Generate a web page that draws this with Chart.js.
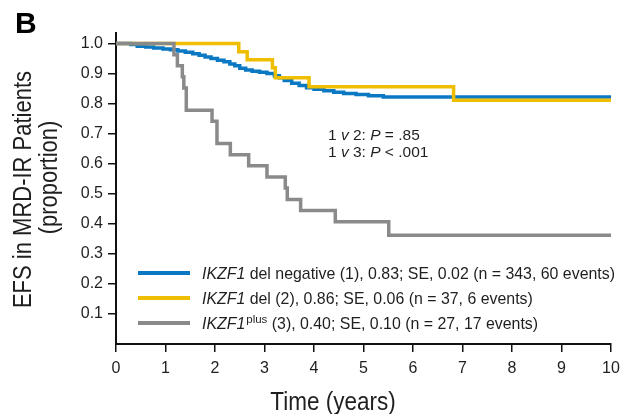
<!DOCTYPE html>
<html>
<head>
<meta charset="utf-8">
<script src="https://cdn.jsdelivr.net/npm/chart.js@4"></script>
<style>
  html, body { margin: 0; padding: 0; background: #fff; }
  #wrap { width: 628px; height: 414px; }
</style>
</head>
<body>
<div id="wrap"><canvas id="km"></canvas></div>
<script>
// tick positions
const xTicks = [0, 1, 2, 3, 4, 5, 6, 7, 8, 9, 10];
const yTicks = [0.1, 0.2, 0.3, 0.4, 0.5, 0.6, 0.7, 0.8, 0.9, 1.0];

// Kaplan-Meier steps (time in years, EFS proportion)
const negTime = [0, 0.30, 0.43, 0.60, 0.76, 0.95, 1.10, 1.25, 1.40, 1.55, 1.68, 1.80, 1.92, 2.05, 2.18, 2.30, 2.40, 2.50,
                 2.62, 2.75, 2.90, 3.05, 3.20, 3.30, 3.40, 3.55, 3.70, 3.85, 4.00, 4.20, 4.40, 4.60, 4.85, 5.10, 5.40, 10];
const negSurv = [1, 0.997, 0.991, 0.988, 0.985, 0.982, 0.979, 0.975, 0.971, 0.966, 0.961, 0.955, 0.950, 0.944, 0.939, 0.932, 0.926, 0.918,
                 0.912, 0.908, 0.904, 0.900, 0.893, 0.886, 0.877, 0.868, 0.860, 0.853, 0.848, 0.843, 0.838, 0.834, 0.830, 0.826, 0.822, 0.822];

const delTime = [0, 2.48, 2.65, 3.16, 3.22, 3.90, 6.82, 10];
const delSurv = [1, 0.973, 0.946, 0.919, 0.886, 0.856, 0.811, 0.811];

const plusTime = [0, 1.17, 1.24, 1.34, 1.37, 1.42, 1.94, 2.04, 2.31, 2.68, 3.05, 3.42, 3.46, 3.73, 4.43, 5.51, 10];
const plusSurv = [1, 0.963, 0.926, 0.889, 0.852, 0.778, 0.741, 0.667, 0.630, 0.593, 0.556, 0.519, 0.481, 0.444, 0.407, 0.362, 0.362];

const groupLabels = ['IKZF1 del negative (1)', 'IKZF1 del (2)', 'IKZF1plus (3)'];
const groupColors = ['#0a78c3', '#f0be00', '#8a8a8a'];

// legend text: [italic gene, superscript, rest]
const legendRows = [
  ['IKZF1', '', ' del negative (1), 0.83; SE, 0.02 (n = 343, 60 events)'],
  ['IKZF1', '', ' del (2), 0.86; SE, 0.06 (n = 37, 6 events)'],
  ['IKZF1', 'plus', ' (3), 0.40; SE, 0.10 (n = 27, 17 events)']
];

const FONT = '"Liberation Sans", Arial, Helvetica, sans-serif';
const INK = '#1f1f1f';

function pts(t, s) {
  return t.map((v, i) => ({ x: v, y: s[i] }));
}

const series = [[negTime, negSurv], [delTime, delSurv], [plusTime, plusSurv]];

// gray on top, then yellow, then blue
const drawOrder = [3, 2, 1];

const datasets = series.map((d, i) => ({
  label: groupLabels[i],
  data: pts(d[0], d[1]),
  borderColor: groupColors[i],
  backgroundColor: groupColors[i],
  borderWidth: 3.5,
  stepped: 'before',
  pointRadius: 0,
  fill: false,
  order: drawOrder[i]
}));

// condensed text helper
function squeezed(ctx, text, x, y, sx) {
  ctx.save();
  ctx.translate(x, y);
  ctx.scale(sx, 1);
  ctx.fillText(text, 0, 0);
  ctx.restore();
}

const labelsPlugin = {
  id: 'labels',
  afterDraw(chart) {
    const ctx = chart.ctx;
    ctx.save();
    ctx.fillStyle = '#000';

    // panel letter
    ctx.font = 'bold 30px ' + FONT;
    ctx.textAlign = 'left';
    ctx.textBaseline = 'alphabetic';
    ctx.fillText('B', 15, 33);

    ctx.fillStyle = INK;

    // x axis title
    ctx.font = '25px ' + FONT;
    ctx.textAlign = 'center';
    squeezed(ctx, 'Time (years)', 333, 410, 0.9);

    // y axis title, two lines
    ctx.save();
    ctx.rotate(-Math.PI / 2);
    ctx.textBaseline = 'middle';
    squeezed(ctx, 'EFS in MRD-IR Patients', -189.5, 24, 0.88);
    squeezed(ctx, '(proportion)', -177.5, 50, 0.88);
    ctx.restore();

    // log-rank comparisons
    ctx.textAlign = 'left';
    ctx.textBaseline = 'alphabetic';
    const pLines = [
      [['1 ', false], ['v', true], [' 2: ', false], ['P', true], [' = .85', false]],
      [['1 ', false], ['v', true], [' 3: ', false], ['P', true], [' < .001', false]]
    ];
    pLines.forEach((parts, r) => {
      let x = 328;
      const y = 139.5 + r * 17;
      parts.forEach(([txt, it]) => {
        ctx.font = (it ? 'italic ' : '') + '15.5px ' + FONT;
        ctx.fillText(txt, x, y);
        x += ctx.measureText(txt).width;
      });
    });

    // legend
    legendRows.forEach((row, i) => {
      const y = 273 + i * 25;
      ctx.strokeStyle = groupColors[i];
      ctx.lineWidth = 4;
      ctx.beginPath();
      ctx.moveTo(138, y);
      ctx.lineTo(190, y);
      ctx.stroke();

      let x = 202;
      const base = y + 5.5;
      ctx.font = 'italic 15.9px ' + FONT;
      ctx.fillText(row[0], x, base);
      x += ctx.measureText(row[0]).width;
      if (row[1]) {
        ctx.font = '11.5px ' + FONT;
        ctx.fillText(row[1], x + 1, base - 6);
        x += ctx.measureText(row[1]).width + 1;
      }
      ctx.font = '15.9px ' + FONT;
      ctx.fillText(row[2], x, base);
    });

    ctx.restore();
  }
};

const axisLine = { color: '#111', width: 2 };
const tickGrid = { drawOnChartArea: false, drawTicks: true, tickLength: 8, color: '#111', lineWidth: 1.5 };

new Chart(document.getElementById('km'), {
  type: 'line',
  data: { datasets: datasets },
  options: {
    responsive: true,
    maintainAspectRatio: false,
    animation: false,
    devicePixelRatio: 1,
    layout: { padding: { top: 33, right: 17, left: 0, bottom: 0 } },
    plugins: { legend: { display: false }, tooltip: { enabled: false } },
    scales: {
      x: {
        type: 'linear',
        min: 0,
        max: 10,
        afterBuildTicks: s => { s.ticks = xTicks.map(v => ({ value: v })); },
        afterFit: s => { s.height = 70; },
        border: axisLine,
        grid: tickGrid,
        ticks: {
          autoSkip: false,
          maxRotation: 0,
          padding: 7,
          color: INK,
          font: { family: FONT, size: 16 },
          callback: v => String(v)
        }
      },
      y: {
        type: 'linear',
        min: 0,
        max: 1.035,
        afterBuildTicks: s => { s.ticks = yTicks.map(v => ({ value: v })); },
        afterFit: s => { s.width = 116; },
        border: axisLine,
        grid: tickGrid,
        ticks: {
          padding: 5,
          color: INK,
          font: { family: FONT, size: 16 },
          callback: v => Number(v).toFixed(1)
        }
      }
    }
  },
  plugins: [labelsPlugin]
});
</script>
</body>
</html>
